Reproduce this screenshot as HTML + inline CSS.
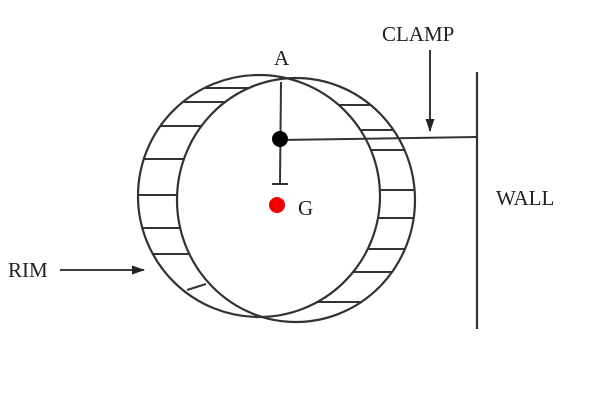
<!DOCTYPE html>
<html><head><style>
html,body{margin:0;padding:0;background:#fff;}
svg{display:block;}
text{font-family:"Liberation Serif",serif;font-size:21px;fill:#222;}
</style></head><body>
<svg id="s" width="603" height="414" viewBox="0 0 603 414" xmlns="http://www.w3.org/2000/svg">
<defs><marker id="ah" markerWidth="13" markerHeight="9" refX="12" refY="4.5" orient="auto" markerUnits="userSpaceOnUse"><path d="M0,0 L13,4.5 L0,9 z" fill="#222"/></marker></defs>
<g id="h" stroke="#333" stroke-width="2"></g>
<ellipse cx="259" cy="196" rx="121" ry="121" fill="none" stroke="#333" stroke-width="2.2"/>
<ellipse cx="296" cy="200" rx="119" ry="122" fill="none" stroke="#333" stroke-width="2.2"/>
<line x1="281" y1="82" x2="280" y2="184" stroke="#333" stroke-width="2"/>
<line x1="272" y1="184" x2="288" y2="184" stroke="#333" stroke-width="2"/>
<line x1="280" y1="140" x2="477" y2="137" stroke="#333" stroke-width="2"/>
<circle cx="280" cy="139" r="8" fill="#000"/>
<circle cx="277" cy="205" r="8" fill="#e00"/>
<line x1="477" y1="72" x2="477" y2="329" stroke="#333" stroke-width="2.2"/>
<line x1="430" y1="50" x2="430" y2="131" stroke="#222" stroke-width="1.8" marker-end="url(#ah)"/>
<line x1="60" y1="270" x2="144" y2="270" stroke="#222" stroke-width="1.8" marker-end="url(#ah)"/>
<text x="274" y="65">A</text>
<text x="298" y="215">G</text>
<text x="382" y="41">CLAMP</text>
<text x="496" y="205">WALL</text>
<text x="8" y="277">RIM</text>
</svg>
<script>
var g=document.getElementById('h'),s='';
function ex(cx,cy,rx,ry,y,side){var d=(y-cy)/ry;var w=rx*Math.sqrt(Math.max(0,1-d*d));return side<0?cx-w:cx+w;}
[88,102,126,159,195,228,254].forEach(function(y){s+='<line x1="'+ex(259,196,121,121,y,-1)+'" y1="'+y+'" x2="'+ex(296,200,119,122,y,-1)+'" y2="'+y+'"/>';});
[105,130,150,190,218,249,272,302].forEach(function(y){s+='<line x1="'+ex(259,196,121,121,y,1)+'" y1="'+y+'" x2="'+ex(296,200,119,122,y,1)+'" y2="'+y+'"/>';});
s+='<line x1="187" y1="290" x2="206" y2="284"/>';
g.innerHTML=s;
</script>
</body></html>
